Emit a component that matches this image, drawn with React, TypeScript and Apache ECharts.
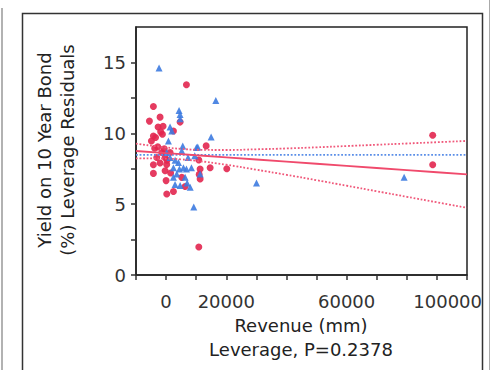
import React, { useEffect, useRef } from "react";
import * as echarts from "echarts";

// Red group (circles): [revenue, residual]
const redPoints: number[][] = [
  [-4220, 11.89], [-2000, 11.14], [-5540, 10.86], [6760, 13.43], [4660, 10.79],
  [-2660, 10.44], [-4220, 9.81], [-4880, 9.46], [-1220, 9.93], [2440, 10.16],
  [-2770, 9.04], [-1440, 8.64], [-330, 8.29], [-4220, 7.78], [-4220, 7.17],
  [-330, 7.36], [0, 6.66], [220, 5.72], [2440, 5.89], [5210, 6.89],
  [6320, 6.24], [11310, 6.78], [11310, 7.48], [10870, 8.11], [13310, 9.11],
  [14640, 7.57], [20170, 7.5], [10870, 1.98], [200, 7.8], [1330, 8.64],
  [-3100, 8.29], [-2000, 7.9], [-3500, 9.7], [-1800, 10.1], [-600, 8.9],
  [300, 8.1], [1500, 7.2], [88600, 9.86], [88600, 7.78], [-3800, 8.95],
  [11000, 7.1], [-1000, 10.5]
];

// Blue group (triangles)
const bluePoints: number[][] = [
  [-2330, 14.6], [16530, 12.31], [4320, 11.61], [4660, 11.03], [1330, 10.44],
  [1880, 10.16], [14970, 9.74], [5540, 9.11], [10530, 9.04], [770, 9.46],
  [220, 8.64], [1330, 8.29], [4100, 7.94], [2440, 7.57], [3550, 7.13],
  [2990, 6.38], [4660, 6.31], [8000, 6.19], [6760, 7.48], [8420, 7.57],
  [7310, 8.29], [9530, 8.41], [10090, 9.0], [11310, 7.13], [9200, 4.79],
  [30040, 6.49], [5760, 7.57], [5210, 8.76], [4430, 7.48], [2440, 6.89],
  [6320, 6.89], [79100, 6.89], [4650, 11.32], [3000, 8.1], [7000, 6.5]
];

// Fit line and confidence band
const bandX = [-10000, 0, 5000, 10000, 20000, 30000, 40000, 50000, 60000, 70000, 80000, 90000, 100000];
const fitY = [8.75, 8.6, 8.53, 8.45, 8.3, 8.15, 8.0, 7.85, 7.7, 7.55, 7.4, 7.25, 7.1];
const upperY = [9.27, 9.0, 8.9, 8.84, 8.82, 8.87, 8.93, 9.01, 9.1, 9.19, 9.28, 9.37, 9.46];
const lowerY = [8.23, 8.21, 8.16, 8.06, 7.78, 7.43, 7.07, 6.69, 6.3, 5.91, 5.52, 5.13, 4.74];
const meanX = [-10000, 100000];
const meanY = [8.48, 8.48];

// Axes
const xMin = -10000;
const xMax = 100000;
const xStep = 10000;
const yMin = 0;
const yMax = 17.5;
const yStep = 2.5;
const xTickLabels = [0, 20000, 60000, 100000];
const yTickLabels = [0, 5, 10, 15];

const FONT = "DejaVu Sans";
const INK = "#222";
const TICK = "#333";

export default function App() {
  const ref = useRef<HTMLDivElement>(null);
  useEffect(() => {
    document.body.style.margin = "0";
    if (!ref.current) return;
    const chart = echarts.init(ref.current, undefined, { renderer: "svg" });
    const zip = (xs: number[], ys: number[]) => xs.map((x, i) => [x, ys[i]]);

    const staticGraphic: any[] = [
      {
        type: "rect", silent: true, z: -1,
        shape: { x: 22.5, y: 13.5, width: 460, height: 400 },
        style: { fill: "none", stroke: "#333", lineWidth: 1.5 },
      },
      { type: "line", silent: true, shape: { x1: 2, y1: 8, x2: 2, y2: 370 }, style: { stroke: "#999", lineWidth: 1.5 } },
      { type: "line", silent: true, shape: { x1: 489.5, y1: 0, x2: 489.5, y2: 370 }, style: { stroke: "#aaa", lineWidth: 1 } },
      {
        type: "text", x: 55.5, y: 150, rotation: Math.PI / 2,
        style: {
          text: "Yield on 10 Year Bond\n(%) Leverage Residuals",
          fontSize: 18, fontFamily: FONT, fill: INK,
          align: "center", verticalAlign: "middle", lineHeight: 23,
        },
      },
      {
        type: "text", x: 301, y: 325,
        style: { text: "Revenue (mm)", fontSize: 18, fontFamily: FONT, fill: INK, align: "center", verticalAlign: "middle" },
      },
      {
        type: "text", x: 301, y: 349,
        style: { text: "Leverage, P=0.2378", fontSize: 18, fontFamily: FONT, fill: INK, align: "center", verticalAlign: "middle" },
      },
    ];

    chart.setOption({
      animation: false,
      backgroundColor: "#fff",
      grid: {
        left: 136, right: 25, top: 27, bottom: 95,
        show: true, borderColor: INK, borderWidth: 1.5, backgroundColor: "transparent",
      },
      xAxis: {
        type: "value", min: xMin, max: xMax, interval: xStep,
        axisLine: { show: true, onZero: false, lineStyle: { color: INK, width: 1.5 } },
        axisTick: { show: true, length: 5, lineStyle: { color: TICK, width: 1.5 } },
        axisLabel: { show: false },
        splitLine: { show: false },
      },
      yAxis: {
        type: "value", min: yMin, max: yMax, interval: yStep,
        axisLine: { show: true, onZero: false, lineStyle: { color: INK, width: 1.5 } },
        axisTick: { show: true, length: 5, lineStyle: { color: TICK, width: 1.5 } },
        axisLabel: {
          fontSize: 18, color: TICK, fontFamily: FONT, margin: 10, showMaxLabel: false,
          formatter: (v: number) => (yTickLabels.includes(v) ? String(v) : ""),
        },
        splitLine: { show: false },
      },
      series: [
        { type: "scatter", data: redPoints, symbol: "circle", symbolSize: 7, itemStyle: { color: "#e2264f", opacity: 0.9 } },
        { type: "scatter", data: bluePoints, symbol: "triangle", symbolSize: 7, itemStyle: { color: "#3d7be0", opacity: 0.9 } },
        { type: "line", data: zip(meanX, meanY), showSymbol: false, symbol: "none", lineStyle: { color: "#5a8ee8", width: 1.8, type: "dotted" } },
        { type: "line", data: zip(bandX, upperY), showSymbol: false, symbol: "none", smooth: true, lineStyle: { color: "#f0587a", width: 1.8, type: "dotted" } },
        { type: "line", data: zip(bandX, lowerY), showSymbol: false, symbol: "none", smooth: true, lineStyle: { color: "#f0587a", width: 1.8, type: "dotted" } },
        { type: "line", data: zip(bandX, fitY), showSymbol: false, symbol: "none", lineStyle: { color: "#f04a6c", width: 1.8 } },
      ],
      graphic: staticGraphic,
    });

    // x tick labels, positioned through the x axis scale
    const labels: any[] = xTickLabels.map((v, i) => {
      const p = chart.convertToPixel({ gridIndex: 0 }, [v, yMin]) as number[];
      const last = i === xTickLabels.length - 1;
      return {
        type: "text", x: last ? p[0] + 15 : p[0], y: p[1] + 17,
        style: {
          text: String(v), fontSize: 18, fontFamily: FONT, fill: TICK,
          align: last ? "right" : "center", verticalAlign: "top",
        },
      };
    });
    chart.setOption({ graphic: [...staticGraphic, ...labels] });

    return () => chart.dispose();
  }, []);
  return <div ref={ref} style={{ width: 492, height: 370 }} />;
}
